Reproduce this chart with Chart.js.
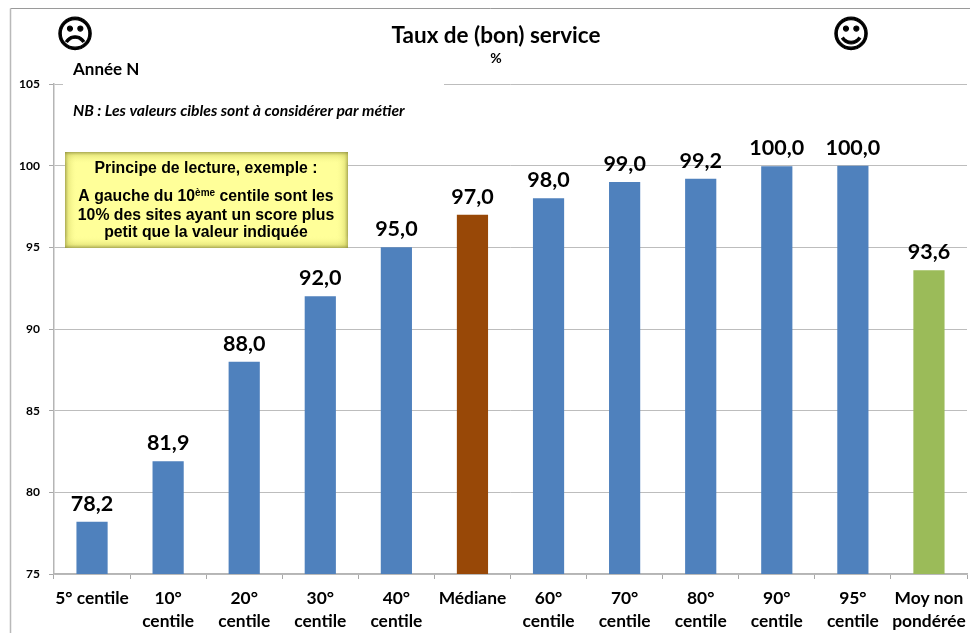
<!DOCTYPE html>
<html lang="fr">
<head>
<meta charset="utf-8">
<style>html,body{margin:0;padding:0;background:#fff;overflow:hidden}canvas{display:block}</style>
<script src="https://cdn.jsdelivr.net/npm/chart.js@4"></script>
</head>
<body>
<canvas id="c" width="970" height="633"></canvas>
<script>
const categories = [
  "5° centile", ["10°","centile"], ["20°","centile"], ["30°","centile"], ["40°","centile"],
  "Médiane", ["60°","centile"], ["70°","centile"], ["80°","centile"], ["90°","centile"],
  ["95°","centile"], ["Moy non","pondérée"]
];
const values = [78.2, 81.9, 88.0, 92.0, 95.0, 97.0, 98.0, 99.0, 99.2, 99.96, 100.0, 93.6];
const barColors = ["#4f81bd","#4f81bd","#4f81bd","#4f81bd","#4f81bd","#984807","#4f81bd","#4f81bd","#4f81bd","#4f81bd","#4f81bd","#9bbb59"];
const yTicks = [75, 80, 85, 90, 95, 100, 105];
const titleText = "Taux de (bon) service";
const unitText = "%";
const yearText = "Année N";
const noteText = "NB : Les valeurs cibles sont à considérer par métier";
const boxHeading = "Principe de lecture, exemple :";
const boxLine2 = ["A gauche du 10", "ème", " centile sont les"];
const boxLine3 = "10% des sites ayant un score plus";
const boxLine4 = "petit que la valeur indiquée";

const LATO = "Lato, Carlito, sans-serif";
const ARIAL = '"Liberation Sans", Arial, sans-serif';

const frame = {
  id: "frame",
  afterLayout(chart) {
    // centre the title block on the reference's title position
    chart.boxes.forEach(b => {
      if (b.options && b.options.text !== undefined) { b.left = 22; b.right = 970; }
    });
  },
  beforeDraw(chart) {
    const c = chart.ctx;
    c.save();
    c.strokeStyle = "#9a9a9a"; c.lineWidth = 1;
    c.beginPath(); c.moveTo(970, 8.5); c.lineTo(10.5, 8.5); c.stroke();
    c.strokeStyle = "#b9b9b9"; c.lineWidth = 1.5;
    c.beginPath(); c.moveTo(10.5, 8.5); c.lineTo(10.5, 633); c.stroke();
    c.restore();
  }
};

const overlay = {
  id: "overlay",
  afterDatasetsDraw(chart) {
    const c = chart.ctx, y = chart.scales.y;
    c.save();
    // blank strip hiding the top gridline behind the notes
    c.fillStyle = "#fff";
    c.fillRect(63, y.getPixelForValue(105) - 3, 381, 6);

    // value labels
    c.fillStyle = "#000"; c.textAlign = "center"; c.textBaseline = "alphabetic";
    c.font = "700 21.5px " + LATO;
    chart.getDatasetMeta(0).data.forEach((bar, i) => {
      c.fillText(values[i].toFixed(1).replace(".", ","), bar.x, bar.y - 11);
    });

    // smileys
    c.font = "700 37px 'DejaVu Sans'"; c.textBaseline = "middle";
    c.strokeStyle = "#000"; c.lineWidth = 1.1;
    [["\u2639", 75], ["\u263A", 851]].forEach(([g, sx]) => {
      c.fillText(g, sx, 37);
      c.strokeText(g, sx, 37);
    });

    // notes
    c.textAlign = "left"; c.textBaseline = "middle";
    c.font = "700 17px " + LATO;
    c.fillText(yearText, 73, 70);
    c.font = "italic 700 15.7px " + LATO;
    c.fillText(noteText, 73, 111);

    // reading-guide box
    const bx = 65, by = 152, bw = 283, bh = 96;
    c.fillStyle = "#ffff99"; c.fillRect(bx, by, bw, bh);
    const edges = [
      c.createLinearGradient(bx, 0, bx + 12, 0),
      c.createLinearGradient(bx + bw, 0, bx + bw - 12, 0),
      c.createLinearGradient(0, by, 0, by + 12),
      c.createLinearGradient(0, by + bh, 0, by + bh - 12)
    ];
    edges.forEach(g => {
      g.addColorStop(0, "rgba(140,140,60,0.75)");
      g.addColorStop(0.3, "rgba(200,200,90,0.35)");
      g.addColorStop(1, "rgba(255,255,153,0)");
      c.fillStyle = g; c.fillRect(bx, by, bw, bh);
    });
    c.fillStyle = "#000"; c.textAlign = "center";
    const cx = 206;
    c.font = "700 15.8px " + ARIAL;
    c.fillText(boxHeading, cx, 169);
    const w0 = c.measureText(boxLine2[0]).width, w2 = c.measureText(boxLine2[2]).width;
    c.font = "700 10px " + ARIAL;
    const w1 = c.measureText(boxLine2[1]).width;
    let lx = cx - (w0 + w1 + w2) / 2;
    c.textAlign = "left";
    c.font = "700 15.8px " + ARIAL; c.fillText(boxLine2[0], lx, 197);
    c.font = "700 10px " + ARIAL; c.fillText(boxLine2[1], lx + w0, 193);
    c.font = "700 15.8px " + ARIAL; c.fillText(boxLine2[2], lx + w0 + w1, 197);
    c.textAlign = "center";
    c.fillText(boxLine3, cx, 215.5);
    c.fillText(boxLine4, cx, 233);
    c.restore();
  }
};

new Chart(document.getElementById("c"), {
  type: "bar",
  data: {
    labels: categories,
    datasets: [{ data: values, backgroundColor: barColors, borderWidth: 0, barPercentage: 0.41, categoryPercentage: 1 }]
  },
  plugins: [frame, overlay],
  options: {
    responsive: false,
    animation: false,
    layout: { padding: { left: 18, right: 3, top: 22, bottom: 0 } },
    plugins: {
      legend: { display: false },
      tooltip: { enabled: false },
      title: {
        display: true, text: titleText, color: "#000",
        font: { family: LATO, size: 22.5, weight: "700", lineHeight: 1.2 },
        padding: { top: 0, bottom: 0 }
      },
      subtitle: {
        display: true, text: unitText, color: "#000",
        font: { family: LATO, size: 14, weight: "700", lineHeight: 1.2 },
        padding: { top: 1, bottom: 17.2 }
      }
    },
    scales: {
      x: {
        grid: { display: true, drawOnChartArea: false, drawTicks: true, tickLength: 5, color: "#a8a8a8", tickColor: "#a8a8a8" },
        border: { color: "#b5b5b5", width: 1.5 },
        ticks: { color: "#000", maxRotation: 0, minRotation: 0, autoSkip: false, padding: 8,
                 font: { family: LATO, size: 17.4, weight: "700", lineHeight: 1.32 } },
        afterFit(s) { s.height = 59; s.paddingLeft = 0; s.paddingRight = 0; }
      },
      y: {
        min: 75, max: 105,
        afterBuildTicks(s) { s.ticks = yTicks.map(v => ({ value: v })); },
        grid: { color: "#bdbdbd", lineWidth: 1, tickLength: 5, tickColor: "#a8a8a8" },
        border: { color: "#b5b5b5", width: 1.5 },
        ticks: { color: "#000", padding: 9, font: { family: LATO, size: 12, weight: "700" } },
        afterFit(s) { s.width = 36; }
      }
    }
  }
});
</script>
</body>
</html>
